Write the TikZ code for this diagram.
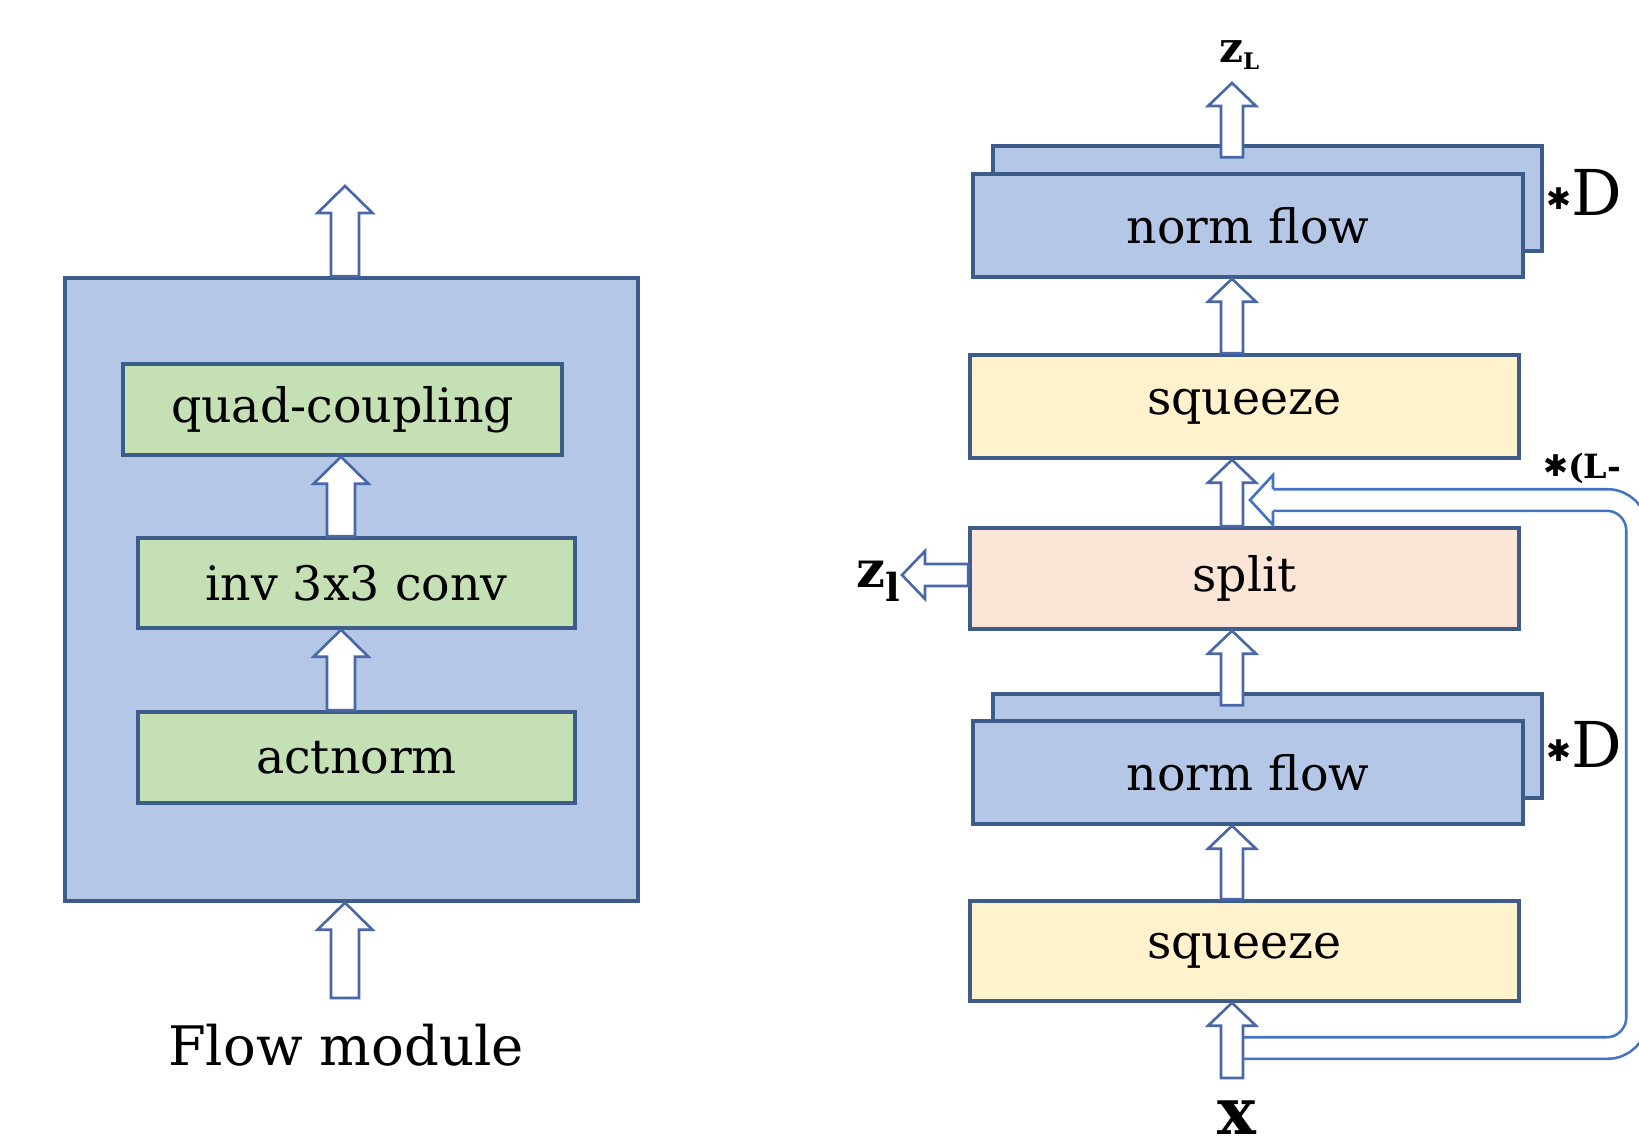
\documentclass[tikz,border=0pt]{standalone}
\usepackage{fontspec}
\setmainfont{DejaVu Serif}
\newfontfamily\starfont{DejaVu Sans}
\usetikzlibrary{calc,positioning}

\definecolor{bluefill}{HTML}{B4C7E7}
\definecolor{greenfill}{HTML}{C5E0B4}
\definecolor{yellowfill}{HTML}{FFF2CC}
\definecolor{orangefill}{HTML}{FBE5D6}
\definecolor{edge}{HTML}{3E5C8A}
\definecolor{arrowcol}{HTML}{4A68A8}
\definecolor{loopcol}{HTML}{4472C4}

\newlength{\shaftw}
\newlength{\headw}
\newlength{\headl}
% hollow block arrows: #1 base, #2 tip
\newcommand{\blockup}[2]{%
  \draw[hollow] let \p1=#1, \p2=#2 in
    (\x1-\shaftw,\y1) -- (\x1-\shaftw,\y2-\headl) -- (\x1-\headw,\y2-\headl)
    -- (\x1,\y2) -- (\x1+\headw,\y2-\headl) -- (\x1+\shaftw,\y2-\headl)
    -- (\x1+\shaftw,\y1) -- cycle;}
\newcommand{\blockleft}[2]{%
  \draw[hollow] let \p1=#1, \p2=#2 in
    (\x1,\y1+\shaftw) -- (\x2+\headl,\y1+\shaftw) -- (\x2+\headl,\y1+\headw)
    -- (\x2,\y1) -- (\x2+\headl,\y1-\headw) -- (\x2+\headl,\y1-\shaftw)
    -- (\x1,\y1-\shaftw) -- cycle;}
\newcommand{\repstar}[1]{\raisebox{#1}{\starfont\fontsize{17}{17}\selectfont ✱}}

\begin{document}
\begin{tikzpicture}[x=0.02cm, y=-0.02cm,
  box/.style={rectangle, draw=edge, line width=2pt, inner sep=0pt, text centered,
    font=\fontsize{27}{30}\selectfont},
  hollow/.style={draw=arrowcol, line width=1.5pt, fill=white, line join=miter},
  loopline/.style={draw=loopcol, line width=1.5pt}
]
  \useasboundingbox (0,0) rectangle (1639,1147);

  % flow module
  \node[box, fill=bluefill, minimum width=11.46cm, minimum height=12.46cm] (module) at (351.5,589.5) {};
  \node[box, fill=greenfill, minimum width=8.78cm, minimum height=1.82cm] (quad) at (342.5,409.5) {quad-coupling};
  \node[box, fill=greenfill, minimum width=8.74cm, minimum height=1.8cm] (conv) at (356.5,583) {inv 3x3 conv};
  \node[box, fill=greenfill, minimum width=8.74cm, minimum height=1.82cm] (actnorm) at (356.5,757.5) {actnorm};
  \node[font=\fontsize{31}{34}\selectfont] (caption) at (346,1045) {Flow module};
  \coordinate (modin) at (345,998);
  \coordinate (modout) at (345,186);

  \setlength{\shaftw}{0.28cm}\setlength{\headw}{0.55cm}\setlength{\headl}{0.54cm}
  \blockup{(modin)}{(module.south)}
  \blockup{($(actnorm.north)+(-15.5,0)$)}{(conv.south)}
  \blockup{($(conv.north)+(-15.5,0)$)}{(quad.south)}
  \blockup{($(module.north)+(-6.5,0)$)}{(modout)}

  % multi-scale architecture
  \coordinate (tap) at (1243,1048);
  \coordinate (fbtip) at (1250,500);
  \draw[loopline, double=white, double distance=0.38cm, rounded corners=0.6cm]
    (tap) -- (1637,1048) -- (1637,500) -- ($(fbtip)+(22,0)$);

  \node[box, fill=yellowfill, minimum width=10.98cm, minimum height=2cm] (sq1) at (1244.5,951) {squeeze};
  \node[box, fill=bluefill, minimum width=10.98cm, minimum height=2.08cm] (nf1back) at (1267.5,746) {};
  \node[box, fill=bluefill, minimum width=11cm, minimum height=2.06cm] (nf1) at (1248,772.5) {norm flow};
  \node[box, fill=orangefill, minimum width=10.98cm, minimum height=2.02cm] (split) at (1244.5,578.5) {split};
  \node[box, fill=yellowfill, minimum width=10.98cm, minimum height=2.06cm] (sq2) at (1244.5,406.5) {squeeze};
  \node[box, fill=bluefill, minimum width=10.98cm, minimum height=2.1cm] (nf2back) at (1267.5,198.5) {};
  \node[box, fill=bluefill, minimum width=11cm, minimum height=2.06cm] (nf2) at (1248,225.5) {norm flow};

  \node[anchor=base west, font=\bfseries] (zL) at (1213,62)
    {{\fontsize{24}{24}\selectfont z}\raisebox{-4.5pt}{\fontsize{13}{13}\selectfont L}};
  \node[anchor=base west, font=\bfseries] (zl) at (850,587)
    {{\fontsize{29}{29}\selectfont z}\raisebox{-8.5pt}{\fontsize{22}{22}\selectfont l}};
  \node[anchor=base, inner sep=0pt, font=\bfseries\fontsize{37}{37}\selectfont] (x) at (1237,1134) {x};
  \node[anchor=west, inner sep=1pt] (dtop) at (1544,192) {\repstar{3pt}\fontsize{36}{36}\selectfont D};
  \node[anchor=west, inner sep=1pt] (dbot) at (1544,744) {\repstar{3pt}\fontsize{36}{36}\selectfont D};
  \node[anchor=west, inner sep=1pt, font=\bfseries\fontsize{19}{19}\selectfont] (lrep) at (1541,468)
    {\repstar{1pt}(L-};
  \coordinate (xin) at (1232,1078);
  \coordinate (zltip) at (902,575);
  \coordinate (zLtip) at (1232,83);

  \setlength{\shaftw}{0.22cm}\setlength{\headw}{0.48cm}\setlength{\headl}{0.46cm}
  \blockup{(xin)}{(sq1.south)}
  \blockup{($(sq1.north)+(-12.5,0)$)}{(nf1.south)}
  \blockup{($(nf1back.north)+(-35.5,13)$)}{(split.south)}
  \blockup{($(split.north)+(-12.5,0)$)}{(sq2.south)}
  \blockup{($(sq2.north)+(-12.5,0)$)}{(nf2.south)}
  \blockup{($(nf2back.north)+(-35.5,13)$)}{(zLtip)}
  \blockleft{($(split.west)+(0,-3.5)$)}{(zltip)}
  \path[loopline, fill=white] let \p1=(fbtip) in
    (\x1+\headl,\y1+0.22cm) -- (\x1+\headl,\y1+0.5cm) -- (\x1,\y1)
    -- (\x1+\headl,\y1-0.5cm) -- (\x1+\headl,\y1-0.22cm);
\end{tikzpicture}
\end{document}
